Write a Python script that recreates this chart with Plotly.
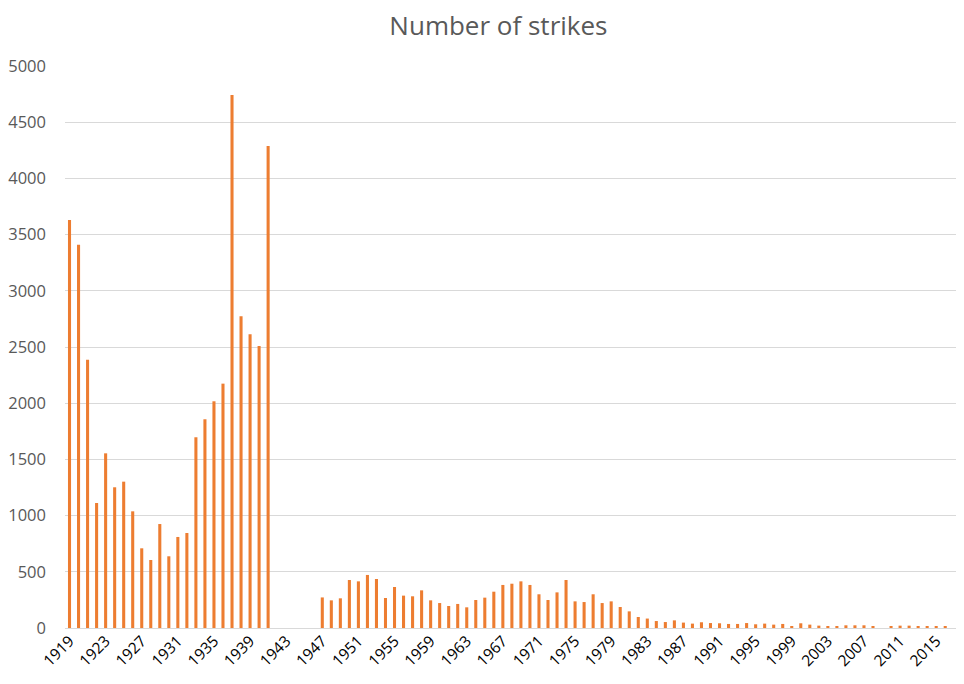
import plotly.graph_objects as go

years = list(range(1919, 2019))

strikes_1919_1941 = [3630, 3410, 2387, 1112, 1554, 1252, 1302, 1038, 709, 605,
                     925, 638, 810, 845, 1697, 1857, 2017, 2174, 4742, 2773,
                     2613, 2509, 4288]
strikes_1942_1946 = [None, None, None, None, None]
strikes_1947_2018 = [272, 246, 264, 427, 415, 472, 436, 267, 365, 288,
                     282, 335, 246, 222, 196, 214, 184, 249, 270, 323,
                     383, 394, 415, 383, 300, 249, 317, 427, 237, 231,
                     300, 222, 237, 187, 148, 98, 84, 62, 53, 68,
                     48, 39, 51, 44, 42, 36, 36, 44, 33, 39,
                     30, 36, 18, 42, 30, 21, 18, 18, 24, 24,
                     24, 15, None, 15, 21, 21, 15, 15, 15, 18,
                     None, 24]
strikes = strikes_1919_1941 + strikes_1942_1946 + strikes_1947_2018

tick_years = list(range(1919, 2016, 4))
tick_labels = [str(y) for y in tick_years]
y_ticks = list(range(0, 5001, 500))

fig = go.Figure()
fig.add_trace(go.Bar(
    x=years, y=strikes,
    marker=dict(color="#ED7D31", line=dict(width=0)),
    width=0.34,
))

# page body has an 8px margin, so the figure is 8px smaller on each axis
fig.update_layout(
    width=956, height=676,
    margin=dict(l=57, r=0, t=58, b=56, autoexpand=False),
    paper_bgcolor="white", plot_bgcolor="white",
    showlegend=False,
    title=dict(text="Number of strikes", x=0.513, xanchor="center", y=0.974, yanchor="middle",
               font=dict(family="Open Sans, sans-serif", size=26, color="#595959")),
    font=dict(family="Open Sans, sans-serif"),
)
fig.update_xaxes(
    range=[1918.5, 2018.08],
    tickmode="array", tickvals=tick_years, ticktext=tick_labels,
    tickangle=-45, automargin=False,
    tickfont=dict(size=15.5, color="#000000"),
    showgrid=False, showline=False, zeroline=False, ticks="",
)
fig.update_yaxes(
    range=[0, 5000], automargin=False,
    tickmode="array", tickvals=y_ticks,
    tickfont=dict(size=16.5, color="#595959"),
    showgrid=True, gridcolor="#D9D9D9", gridwidth=1,
    zeroline=True, zerolinecolor="#D9D9D9", zerolinewidth=1,
    ticks="", ticklabelstandoff=18,
)

fig.write_html("out.html")
